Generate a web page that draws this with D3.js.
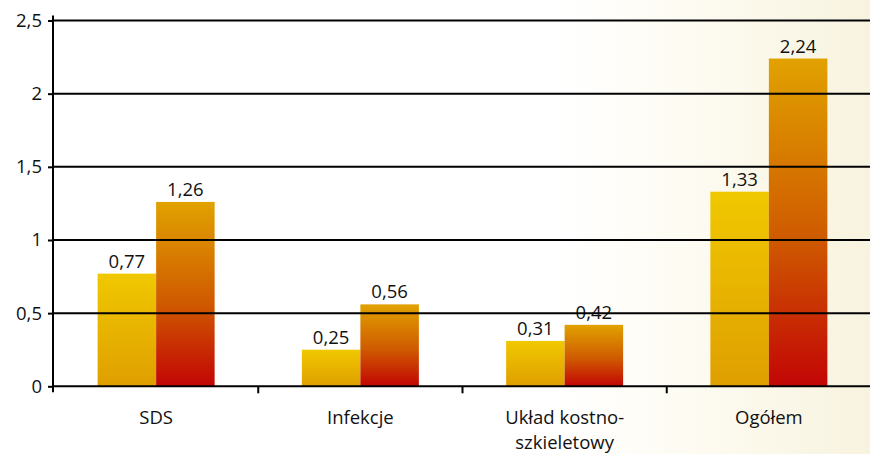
<!DOCTYPE html>
<html>
<head>
<meta charset="utf-8">
<script src="https://cdn.jsdelivr.net/npm/d3@7"></script>
<style>
  html, body { margin: 0; padding: 0; background: #fff; }
  svg { display: block; }
  text { font-family: "Open Sans", "Noto Sans", sans-serif; fill: #111; }
</style>
</head>
<body>
<svg id="chart" width="870" height="454"></svg>
<script>
const categories = [["SDS"], ["Infekcje"], ["Układ kostno-", "szkieletowy"], ["Ogółem"]];
const seriesA = [0.77, 0.25, 0.31, 1.33];
const seriesB = [1.26, 0.56, 0.42, 2.24];
const yTicks = [0, 0.5, 1, 1.5, 2, 2.5];

const W = 870, H = 454;
const margin = { left: 53, right: 0, top: 20.5 };
const FS = 18.5;
const svg = d3.select("#chart");
const defs = svg.append("defs");

// warm cream tint fading in towards the right edge
const glow = defs.append("linearGradient").attr("id", "glow")
  .attr("gradientUnits", "userSpaceOnUse")
  .attr("x1", 560).attr("y1", 0).attr("x2", 870).attr("y2", 0);
glow.append("stop").attr("offset", "0%").attr("stop-color", "#ffffff");
glow.append("stop").attr("offset", "45%").attr("stop-color", "#fdfbf1");
glow.append("stop").attr("offset", "100%").attr("stop-color", "#f8f3df");
svg.append("rect").attr("width", W).attr("height", H).attr("fill", "url(#glow)");

const gA = defs.append("linearGradient").attr("id", "gradA").attr("x1", 0).attr("y1", 0).attr("x2", 0).attr("y2", 1);
gA.append("stop").attr("offset", "0%").attr("stop-color", "#f0c800");
gA.append("stop").attr("offset", "100%").attr("stop-color", "#df9f00");
const gB = defs.append("linearGradient").attr("id", "gradB").attr("x1", 0).attr("y1", 0).attr("x2", 0).attr("y2", 1);
gB.append("stop").attr("offset", "0%").attr("stop-color", "#e1a200");
gB.append("stop").attr("offset", "55%").attr("stop-color", "#cf5a00");
gB.append("stop").attr("offset", "100%").attr("stop-color", "#c20505");

const x = d3.scaleBand().domain(d3.range(categories.length))
  .range([margin.left + 1, W + 1]);
const y = d3.scaleLinear().domain([0, 2.5]).range([386.3, margin.top]);

const fmt = d => d3.format(".2~f")(d).replace(".", ",");
const fmtTick = d => String(d).replace(".", ",");

const barW = 58.5;

function drawBars(values, offset, fill) {
  svg.append("g").selectAll("rect").data(values).join("rect")
    .attr("x", (d, i) => x(i) + x.bandwidth() / 2 + offset)
    .attr("width", barW)
    .attr("y", d => y(d))
    .attr("height", d => y(0) - y(d))
    .attr("fill", fill);
  svg.append("g").selectAll("text").data(values).join("text")
    .attr("x", (d, i) => x(i) + x.bandwidth() / 2 + offset + barW / 2)
    .attr("y", d => y(d) - 6)
    .attr("text-anchor", "middle")
    .attr("font-size", FS)
    .text(fmt);
}
drawBars(seriesA, -barW, "url(#gradA)");
drawBars(seriesB, 0, "url(#gradB)");

// gridlines over bars
svg.append("g").selectAll("line").data(yTicks.filter(d => d > 0)).join("line")
  .attr("x1", margin.left).attr("x2", W)
  .attr("y1", d => y(d)).attr("y2", d => y(d))
  .attr("stroke", "#000").attr("stroke-width", 2);

// y axis
const yAxis = d3.axisLeft(y).tickValues(yTicks).tickSize(5).tickPadding(6).tickFormat(fmtTick);
const gy = svg.append("g").attr("transform", `translate(${margin.left},0)`).call(yAxis);
gy.select(".domain").attr("stroke-width", 2).attr("d", `M0,${y(2.5)-5}V${y(0)+6}`);
gy.selectAll(".tick line").attr("stroke-width", 2);
gy.selectAll(".tick text").attr("font-size", FS).attr("font-family", '"Open Sans", sans-serif').attr("fill", "#111");

// x axis baseline and separators
svg.append("line").attr("x1", margin.left).attr("x2", W).attr("y1", y(0)).attr("y2", y(0))
  .attr("stroke", "#000").attr("stroke-width", 2);
const seps = d3.range(1, categories.length).map(i => x(i));
svg.append("g").selectAll("line").data(seps).join("line")
  .attr("x1", d => d).attr("x2", d => d).attr("y1", y(0)).attr("y2", y(0) + 7)
  .attr("stroke", "#000").attr("stroke-width", 2);

// category labels
const lab = svg.append("g").selectAll("text").data(categories).join("text")
  .attr("x", (d, i) => x(i) + x.bandwidth() / 2)
  .attr("y", 424)
  .attr("text-anchor", "middle")
  .attr("font-size", FS);
lab.selectAll("tspan").data(d => d).join("tspan")
  .attr("x", function () { return d3.select(this.parentNode).attr("x"); })
  .attr("dy", (d, i) => i === 0 ? 0 : 25)
  .text(d => d);
</script>
</body>
</html>
